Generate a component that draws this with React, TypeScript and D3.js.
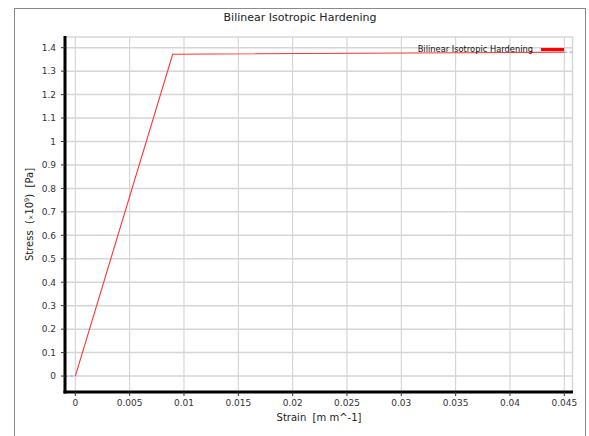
import React from "react";
import * as d3 from "d3";

const strain = [0, 0.00896, 0.045];
const stress = [0, 1.372, 1.381];
const xTicks = [0, 0.005, 0.01, 0.015, 0.02, 0.025, 0.03, 0.035, 0.04, 0.045];
const yTicks = [0, 0.1, 0.2, 0.3, 0.4, 0.5, 0.6, 0.7, 0.8, 0.9, 1, 1.1, 1.2, 1.3, 1.4];
const titleText = "Bilinear Isotropic Hardening";
const seriesName = "Bilinear Isotropic Hardening";

const W = 589, H = 436;
const L = 65, R = 573, T = 37, B = 392;
const FONT = "DejaVu Sans, Verdana, sans-serif";

export default function App() {
  const x = d3.scaleLinear().domain([-0.00095, 0.0458]).range([L, R]);
  const y = d3.scaleLinear().domain([-0.068, 1.4456]).range([B, T]);
  const pts = strain.map((s, i) => [s, stress[i]] as [number, number]);
  const line = d3.line<[number, number]>().x(d => x(d[0])).y(d => y(d[1]));
  const fmt = (v: number) => String(+v.toFixed(4));
  const first = pts[0];
  const last = pts[pts.length - 1];
  return (
    <svg width={W} height={H} style={{ position: "absolute", left: 0, top: 0, background: "#fff" }} fontFamily={FONT}>
      <rect x={14.5} y={8.5} width={571} height={440} fill="#fff" stroke="#8a8a8a" strokeWidth={1} />
      <text x={300} y={21} textAnchor="middle" fontSize={11} fill="#222">{titleText}</text>
      {/* grid */}
      {xTicks.map(t => (
        <line key={"gx" + t} x1={x(t)} x2={x(t)} y1={T} y2={B} stroke="#cfcfcf" strokeWidth={1} />
      ))}
      <line x1={R - 0.5} x2={R - 0.5} y1={T} y2={B} stroke="#d6d6d6" strokeWidth={1.5} />
      {yTicks.map(t => (
        <line key={"gy" + t} x1={L} x2={R} y1={y(t)} y2={y(t)} stroke="#d6d6d6" strokeWidth={1.5} />
      ))}
      <line x1={L} x2={R} y1={T} y2={T} stroke="#d6d6d6" strokeWidth={1.5} />
      {/* extrapolation dashes */}
      <line x1={L} x2={x(first[0])} y1={y(first[1])} y2={y(first[1])} stroke="#9a9af0" strokeWidth={1} strokeDasharray="3,2" />
      <line x1={x(last[0])} x2={R} y1={y(last[1])} y2={y(last[1])} stroke="#9a9af0" strokeWidth={1} strokeDasharray="3,2" />
      {/* data */}
      <path d={line(pts) || ""} fill="none" stroke="#ff3333" strokeWidth={1.1} />
      {/* axes */}
      <line x1={L} x2={L} y1={T - 1} y2={B + 1.5} stroke="#000" strokeWidth={3} />
      <line x1={L - 1.5} x2={R} y1={B} y2={B} stroke="#000" strokeWidth={3} />
      {yTicks.map(t => (
        <g key={"ty" + t}>
          <line x1={L - 4} x2={L} y1={y(t)} y2={y(t)} stroke="#333" strokeWidth={1} />
          <text x={L - 9} y={y(t) + 3.3} textAnchor="end" fontSize={9} fill="#333">{fmt(t)}</text>
        </g>
      ))}
      {xTicks.map(t => (
        <g key={"tx" + t}>
          <line x1={x(t)} x2={x(t)} y1={B} y2={B + 4} stroke="#333" strokeWidth={1} />
          <text x={x(t)} y={B + 14} textAnchor="middle" fontSize={9} fill="#333">{fmt(t)}</text>
        </g>
      ))}
      <text x={(L + R) / 2} y={421} textAnchor="middle" fontSize={10} fill="#222" style={{ whiteSpace: "pre" }}>{"Strain  [m m^-1]"}</text>
      <text transform={`translate(33,${(T + B) / 2}) rotate(-90)`} textAnchor="middle" fontSize={10} fill="#222" style={{ whiteSpace: "pre" }}>
        {"Stress  ("}<tspan fontSize={6.5}>×</tspan>{"10"}<tspan fontSize={6.5} dy={-4}>9</tspan><tspan dy={4}>{")  [Pa]"}</tspan>
      </text>
      {/* legend */}
      <text x={533} y={52} textAnchor="end" fontSize={8.3} fill="#111">{seriesName}</text>
      <line x1={541} x2={564} y1={49.5} y2={49.5} stroke="#ff0000" strokeWidth={3} />
    </svg>
  );
}
